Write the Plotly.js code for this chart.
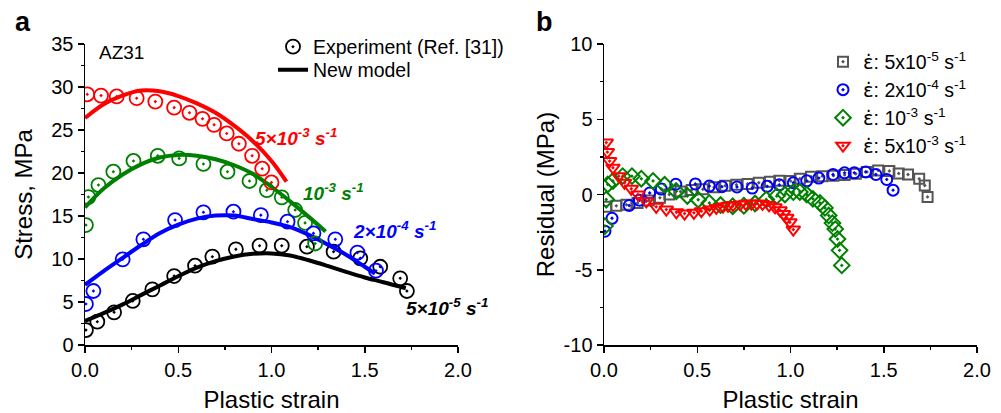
<!DOCTYPE html>
<html>
<head>
<meta charset="utf-8">
<script src="https://cdn.plot.ly/plotly-3.0.1.min.js"></script>
<style>html,body{margin:0;padding:0;background:#fff;}#chart{width:1001px;height:413px;}</style>
</head>
<body>
<div id="chart"></div>
<script>
// ---------- Panel a: experiment ----------
const expRedX   = [0.012,0.086,0.17,0.277,0.377,0.478,0.56,0.63,0.692,0.76,0.825,0.896,0.95,1.0];
const expRedY   = [29.15,29.0,28.9,28.7,28.3,27.6,27.0,26.3,25.6,24.6,23.4,22.0,20.5,18.9];
const expGreenX = [0.005,0.018,0.072,0.152,0.26,0.39,0.505,0.635,0.764,0.882,0.975,1.055,1.127,1.18,1.234];
const expGreenY = [13.95,17.2,18.6,20.15,21.4,22.0,21.7,21.05,20.15,19.07,18.0,17.17,15.7,14.2,11.8];
const expBlueX  = [0.005,0.045,0.202,0.313,0.483,0.635,0.796,0.943,1.086,1.225,1.342,1.461,1.56];
const expBlueY  = [4.77,6.28,9.96,12.29,14.53,15.43,15.5,15.1,14.34,12.98,12.29,10.74,8.64];
const expBlackX = [0.005,0.066,0.156,0.256,0.361,0.478,0.59,0.683,0.809,0.936,1.055,1.19,1.333,1.476,1.583,1.69,1.726];
const expBlackY = [1.74,2.71,3.8,5.12,6.47,8.02,9.22,10.27,11.12,11.55,11.55,11.43,10.85,10.08,9.1,7.75,6.28];

// ---------- Panel a: new model ----------
const modRedX   = [0,0.1,0.2,0.3,0.4,0.5,0.6,0.7,0.8,0.9,1.0,1.08];
const modRedY   = [26.4,28.0,29.0,29.6,29.5,28.95,28.1,27.0,25.5,23.7,21.4,19.0];
const modGreenX = [0,0.1,0.2,0.3,0.4,0.5,0.6,0.7,0.8,0.9,1.0,1.1,1.2,1.29];
const modGreenY = [16.0,18.2,19.8,21.0,21.8,22.1,22.0,21.6,20.9,19.9,18.4,16.7,14.9,13.2];
const modBlueX  = [0,0.1,0.2,0.3,0.4,0.5,0.6,0.7,0.8,0.9,1.0,1.1,1.2,1.3,1.4,1.5,1.555];
const modBlueY  = [7.0,8.6,10.1,11.6,13.0,14.0,14.7,15.05,15.05,14.65,14.25,13.7,12.8,11.7,10.5,9.1,8.3];
const modBlackX = [0,0.1,0.2,0.3,0.4,0.5,0.6,0.7,0.8,0.9,1.0,1.1,1.2,1.3,1.4,1.5,1.6,1.72];
const modBlackY = [2.8,3.7,4.7,5.8,6.9,8.0,9.0,9.75,10.3,10.6,10.65,10.4,9.85,9.2,8.5,7.85,7.3,6.6];

// ---------- Panel b: residuals ----------
const resGrayX  = [0.012,0.066,0.12,0.18,0.24,0.3,0.35,0.41,0.47,0.53,0.59,0.65,0.71,0.77,0.83,0.89,0.94,1.0,1.05,1.11,1.17,1.23,1.29,1.35,1.41,1.47,1.53,1.58,1.63,1.69,1.72,1.735];
const resGrayY  = [-0.82,-0.75,-0.68,-0.56,-0.4,-0.22,0.0,0.2,0.3,0.35,0.48,0.58,0.65,0.7,0.78,0.85,0.92,0.9,1.05,1.18,1.22,1.25,1.3,1.38,1.5,1.6,1.56,1.4,1.33,1.04,0.6,-0.16];
const resBlueX  = [0.005,0.043,0.135,0.19,0.245,0.307,0.385,0.49,0.565,0.632,0.713,0.795,0.875,0.94,1.015,1.087,1.152,1.228,1.29,1.342,1.403,1.458,1.516,1.55];
const resBlueY  = [-2.44,-1.58,-0.73,-0.38,0.1,0.36,0.68,0.7,0.56,0.52,0.5,0.43,0.54,0.64,0.78,0.91,1.09,1.33,1.44,1.44,1.5,1.33,1.0,0.29];
const resGreenX = [0.005,0.012,0.02,0.048,0.1,0.15,0.2,0.263,0.325,0.388,0.447,0.505,0.565,0.625,0.69,0.75,0.81,0.87,0.926,0.97,1.015,1.05,1.087,1.12,1.158,1.185,1.205,1.225,1.24,1.252,1.263,1.275];
const resGreenY = [-2.1,-0.33,0.67,0.9,1.22,1.22,1.05,0.9,0.65,0.22,-0.1,-0.35,-0.56,-0.7,-0.78,-0.75,-0.6,-0.33,-0.11,0.0,0.16,0.17,0.0,-0.29,-0.56,-0.89,-1.4,-1.9,-2.3,-2.96,-3.71,-4.71];
const resRedX   = [0.012,0.018,0.03,0.048,0.079,0.11,0.146,0.182,0.227,0.28,0.334,0.388,0.432,0.482,0.522,0.567,0.602,0.638,0.665,0.692,0.73,0.76,0.79,0.82,0.85,0.885,0.917,0.944,0.962,0.98,0.997,1.015];
const resRedY   = [3.45,2.82,2.22,1.78,1.22,0.78,0.38,0.0,-0.45,-0.82,-1.0,-1.18,-1.27,-1.22,-1.11,-1.0,-0.89,-0.8,-0.75,-0.7,-0.66,-0.62,-0.6,-0.6,-0.63,-0.72,-0.85,-1.05,-1.3,-1.55,-1.85,-2.33];

// ---------- text ----------
const xTickVals = [0,0.5,1,1.5,2];
const xTickText = ['0.0','0.5','1.0','1.5','2.0'];
const yResTickVals = [-10,-5,0,5,10];
const yResTickText = ['-10','-5','0','5','10'];
const rateLabels = ['5\u00d710<sup>-3</sup> s<sup>-1</sup>','10<sup>-3</sup> s<sup>-1</sup>','2\u00d710<sup>-4</sup> s<sup>-1</sup>','5\u00d710<sup>-5</sup> s<sup>-1</sup>'];
const EPS = '<span style="font-family:\'DejaVu Sans\'">\u03b5\u0307</span>';
const resNames = [EPS+': 5x10<sup>-5</sup> s<sup>-1</sup>',EPS+': 2x10<sup>-4</sup> s<sup>-1</sup>',EPS+': 10<sup>-3</sup> s<sup>-1</sup>',EPS+': 5x10<sup>-3</sup> s<sup>-1</sup>'];

const RED='#ff0000', GREEN='#008000', BLUE='#0000ff', BLACK='#000000', GRAY='#555555';
const FONT='Arial, "Liberation Sans", sans-serif';

function expTrace(x,y,c,name,leg){
  return {x:x,y:y,type:'scatter',mode:'markers',xaxis:'x',yaxis:'y',name:name,showlegend:!!leg,legend:leg||'legend',
    marker:{symbol:'circle-open-dot',size:14,color:c,line:{width:1.8,color:c}}};
}
function modTrace(x,y,c,name,leg){
  return {x:x,y:y,type:'scatter',mode:'lines',xaxis:'x',yaxis:'y',name:name,showlegend:!!leg,legend:leg||'legend',
    line:{color:c,width:4,shape:'spline'}};
}
function resTrace(x,y,c,sym,size,name,leg){
  return {x:x,y:y,type:'scatter',mode:'markers',xaxis:'x2',yaxis:'y2',name:name,showlegend:true,legend:leg,
    marker:{symbol:sym,size:size,color:c,line:{width:2,color:c}}};
}

const data = [
  expTrace(expBlackX,expBlackY,BLACK,'Experiment (Ref. [31])','legend'),
  modTrace(modBlackX,modBlackY,BLACK,'New model','legend3'),
  modTrace(modRedX,modRedY,RED,'r',null),
  modTrace(modGreenX,modGreenY,GREEN,'g',null),
  modTrace(modBlueX,modBlueY,BLUE,'b',null),
  expTrace(expRedX,expRedY,RED,'r',null),
  expTrace(expGreenX,expGreenY,GREEN,'g',null),
  expTrace(expBlueX,expBlueY,BLUE,'b',null),
  resTrace(resGrayX,resGrayY,GRAY,'square-open-dot',10,resNames[0],'legend2'),
  resTrace(resBlueX,resBlueY,BLUE,'circle-open-dot',11,resNames[1],'legend4'),
  resTrace(resGreenX,resGreenY,GREEN,'diamond-open-dot',12,resNames[2],'legend5'),
  resTrace(resRedX,resRedY,RED,'triangle-down-open-dot',12,resNames[3],'legend6')
];

const W=1001, T=44, B=68, H=413, PH=H-T-B;
function px(x){return x/W;}
function py(y){return (H-B-y)/PH;}
function leg(xl,yc,size){
  return {x:px(xl),y:py(yc),xanchor:'left',yanchor:'middle',bgcolor:'rgba(0,0,0,0)',borderwidth:0,font:{family:FONT,size:size},tracegroupgap:0};
}

const baseAxis = {showgrid:false,zeroline:false,showline:true,linecolor:'#000',linewidth:1.5,
  ticks:'outside',ticklen:6,tickwidth:1.5,tickcolor:'#000',tickfont:{family:FONT,size:20,color:'#000'}};

const layout = {
  width:W,height:H,margin:{l:0,r:0,t:T,b:B},paper_bgcolor:'#fff',plot_bgcolor:'rgba(0,0,0,0)',
  font:{family:FONT,color:'#000'},
  xaxis:Object.assign({},baseAxis,{domain:[px(85),px(458)],anchor:'y',range:[0,2],tickvals:xTickVals,ticktext:xTickText,
    minor:{tickvals:[0.25,0.75,1.25,1.75],ticks:'outside',ticklen:3,tickwidth:1.5,tickcolor:'#000'},
    title:{text:'Plastic strain',font:{family:FONT,size:24},standoff:12}}),
  yaxis:Object.assign({},baseAxis,{domain:[0,1],anchor:'x',range:[0,35],dtick:5,tick0:0,
    minor:{dtick:2.5,ticks:'outside',ticklen:3,tickwidth:1.5,tickcolor:'#000'},
    title:{text:'Stress, MPa',font:{family:FONT,size:24},standoff:12}}),
  xaxis2:Object.assign({},baseAxis,{domain:[px(604),px(977)],anchor:'y2',range:[0,2],tickvals:xTickVals,ticktext:xTickText,
    minor:{tickvals:[0.25,0.75,1.25,1.75],ticks:'outside',ticklen:3,tickwidth:1.5,tickcolor:'#000'},
    title:{text:'Plastic strain',font:{family:FONT,size:24},standoff:12}}),
  yaxis2:Object.assign({},baseAxis,{domain:[0,1],anchor:'x2',range:[-10,10],tickvals:yResTickVals,ticktext:yResTickText,
    minor:{dtick:2.5,ticks:'outside',ticklen:3,tickwidth:1.5,tickcolor:'#000'},
    title:{text:'Residual (MPa)',font:{family:FONT,size:24},standoff:2}}),
  xaxis3:Object.assign({},baseAxis,{overlaying:'x2',side:'top',anchor:'y2',range:[0,2],tickvals:xTickVals,showticklabels:false,
    ticks:'inside',minor:{tickvals:[0.25,0.75,1.25,1.75],ticks:'inside',ticklen:3,tickwidth:1.5,tickcolor:'#000'}}),
  yaxis3:Object.assign({},baseAxis,{overlaying:'y2',side:'right',anchor:'x2',range:[-10,10],dtick:5,tick0:0,showticklabels:false,
    ticks:'inside',minor:{dtick:2.5,ticks:'inside',ticklen:3,tickwidth:1.5,tickcolor:'#000'}}),
  legend:leg(273,47,19.5),
  legend3:leg(273,70,19.5),
  legend2:leg(823,62,19.5),
  legend4:leg(823,90,19.5),
  legend5:leg(823,118,19.5),
  legend6:leg(823,146,19.5),
  annotations:[
    {text:'<b>a</b>',xref:'paper',yref:'paper',x:px(23),y:py(22),xanchor:'center',yanchor:'middle',showarrow:false,font:{family:FONT,size:27}},
    {text:'<b>b</b>',xref:'paper',yref:'paper',x:px(544),y:py(22),xanchor:'center',yanchor:'middle',showarrow:false,font:{family:FONT,size:27}},
    {text:'AZ31',xref:'x',yref:'y',x:0.062,y:34.0,xanchor:'left',showarrow:false,font:{family:FONT,size:19}},
    {text:'<b><i>'+rateLabels[0]+'</i></b>',xref:'x',yref:'y',x:1.13,y:24.2,showarrow:false,font:{family:FONT,size:19,color:RED}},
    {text:'<b><i>'+rateLabels[1]+'</i></b>',xref:'x',yref:'y',x:1.33,y:17.8,showarrow:false,font:{family:FONT,size:19,color:GREEN}},
    {text:'<b><i>'+rateLabels[2]+'</i></b>',xref:'x',yref:'y',x:1.657,y:13.4,showarrow:false,font:{family:FONT,size:19,color:BLUE}},
    {text:'<b><i>'+rateLabels[3]+'</i></b>',xref:'x',yref:'y',x:1.94,y:4.4,showarrow:false,font:{family:FONT,size:19,color:BLACK}}
  ]
};

Plotly.newPlot('chart',data,layout,{displayModeBar:false,staticPlot:true});
</script>
</body>
</html>
